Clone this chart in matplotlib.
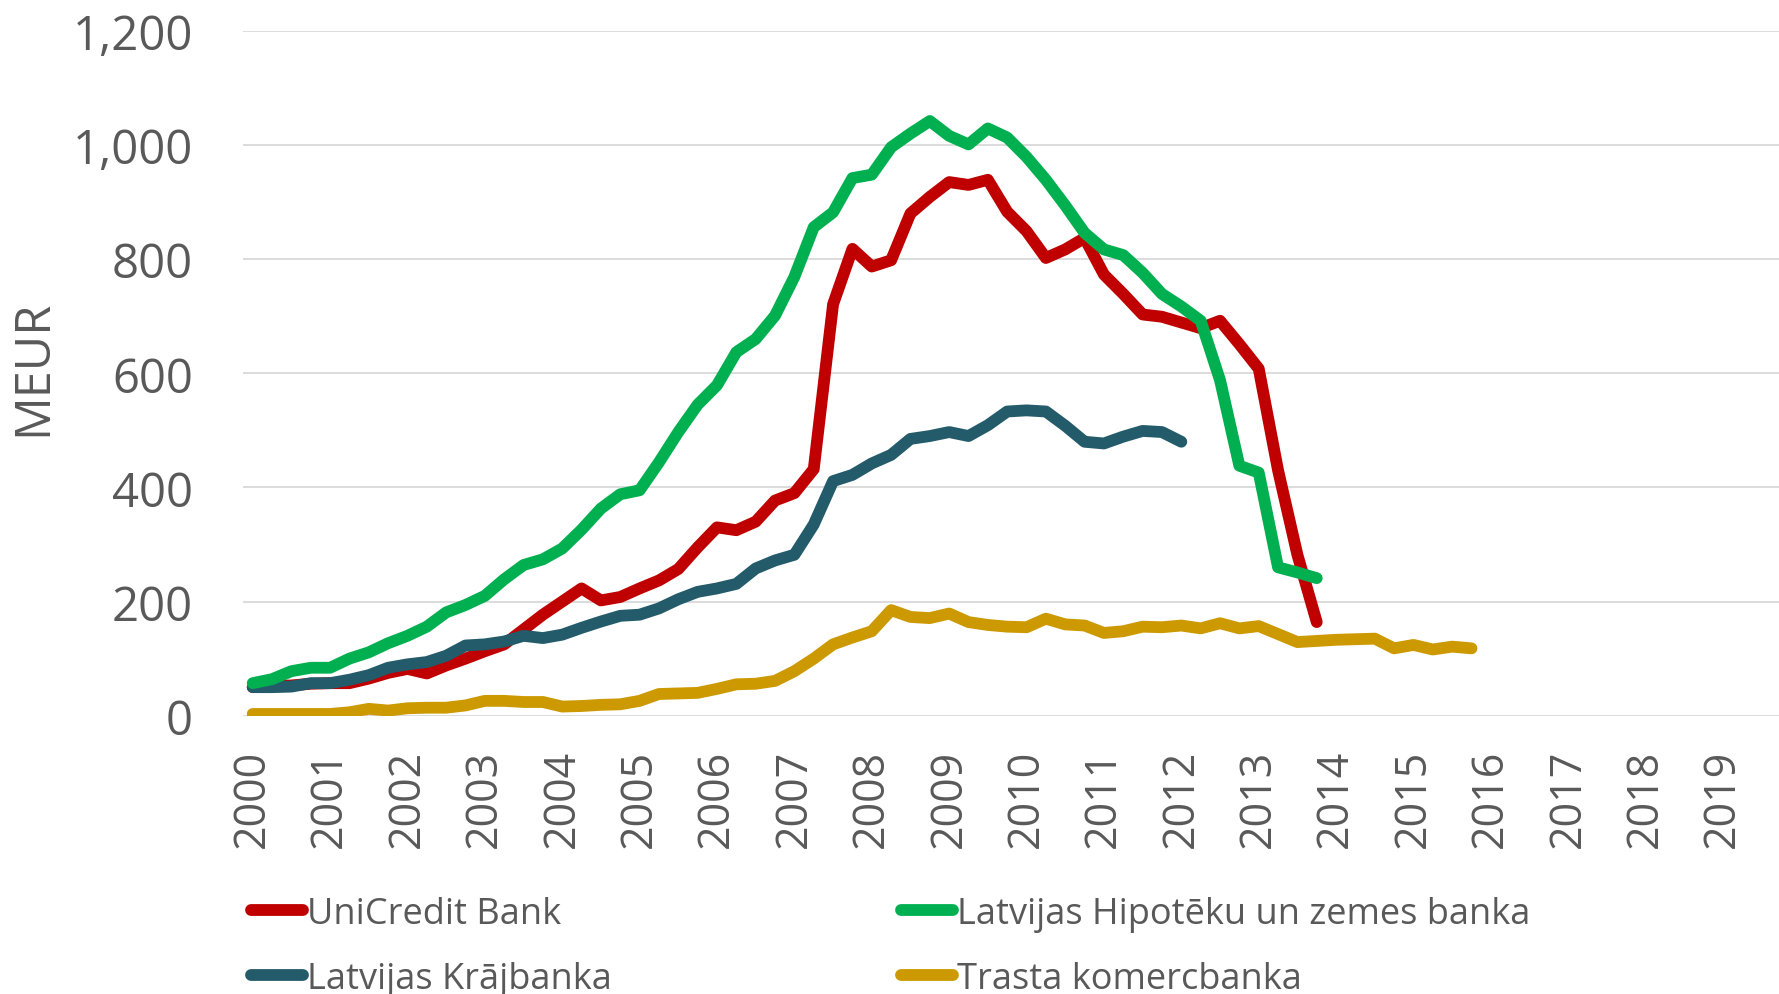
import matplotlib.pyplot as plt
import numpy as np

plt.rcParams['font.family'] = ['Open Sans', 'DejaVu Sans']

years = list(range(2000, 2020))

# quarterly values, MEUR, starting 2000 Q1
unicredit = [50, 52, 53, 56, 57, 57, 65, 75, 82, 74,
             88, 100, 113, 125, 151, 177, 200, 223, 202, 208,
             223, 237, 257, 295, 330, 325, 340, 377, 390, 432,
             721, 818, 787, 798, 880, 909, 935, 930, 939, 883,
             849, 802, 817, 837, 773, 739, 703, 699, 689, 679,
             692, 651, 608, 430, 282, 164]
hipoteku = [57, 64, 78, 84, 84, 100, 111, 127, 140, 156,
            181, 194, 210, 239, 264, 274, 293, 326, 363, 388,
            395, 444, 497, 545, 579, 637, 660, 701, 769, 856,
            882, 942, 948, 996, 1020, 1042, 1016, 1001, 1029, 1013,
            979, 939, 894, 846, 817, 807, 776, 739, 717, 692,
            588, 438, 426, 260, 251, 241]
krajbanka = [50, 50, 51, 57, 57, 63, 71, 84, 90, 94,
             105, 123, 125, 130, 140, 136, 142, 154, 165, 175,
             177, 188, 204, 217, 223, 231, 258, 272, 282, 335,
             411, 422, 442, 457, 485, 490, 497, 490, 509, 533,
             535, 533, 508, 480, 477, 489, 499, 497, 480]
trasta = [3, 3, 3, 3, 3, 6, 12, 9, 13, 14,
          14, 18, 26, 26, 24, 24, 16, 17, 19, 20,
          26, 38, 39, 40, 47, 55, 56, 61, 78, 100,
          125, 137, 148, 185, 173, 171, 179, 164, 159, 156,
          155, 170, 160, 158, 145, 148, 156, 155, 158, 153,
          162, 153, 157, 143, 129, 131, 133, 134, 135, 118,
          124, 116, 121, 118]

series = [
    ("UniCredit Bank", unicredit, "#C00000"),
    ("Latvijas Krājbanka", krajbanka, "#235B6A"),
    ("Latvijas Hipotēku un zemes banka", hipoteku, "#00B050"),
    ("Trasta komercbanka", trasta, "#CC9900"),
]

grey = "#595959"

fig = plt.figure(figsize=(17.79, 9.95), dpi=100)
ax = fig.add_axes([0.1366, 0.2797, 0.870, 0.6883])

for name, vals, col in series:
    ax.plot(np.arange(len(vals)), vals, color=col, lw=8.5, label=name,
            solid_capstyle="round", solid_joinstyle="round")

ax.set_xlim(-0.5, 79.5)
ax.set_ylim(0, 1200)
ax.set_xticks(np.arange(0, 80, 4))
ax.set_xticklabels([str(y) for y in years], rotation=90, fontsize=31, color=grey)
ax.set_yticks(range(0, 1201, 200))
ax.set_yticklabels([f"{v:,}" for v in range(0, 1201, 200)], fontsize=34, color=grey)
ax.tick_params(axis="both", length=0)
ax.tick_params(axis="x", pad=24)
ax.tick_params(axis="y", pad=36)
ax.grid(axis="y", color="#D9D9D9", lw=1.3)
ax.set_axisbelow(True)
for s in ax.spines.values():
    s.set_visible(False)

fig.text(0.019, 0.630, "MEUR", rotation=90, fontsize=35, color=grey,
         ha="center", va="center")

fig.legend(loc="upper left", bbox_to_anchor=(0.131, 0.117), ncol=2,
           frameon=False, fontsize=26, labelcolor=grey, borderpad=0,
           handlelength=1.45, handletextpad=0.1, columnspacing=8.0,
           labelspacing=0.8)

fig.savefig("out.png", dpi=100)
